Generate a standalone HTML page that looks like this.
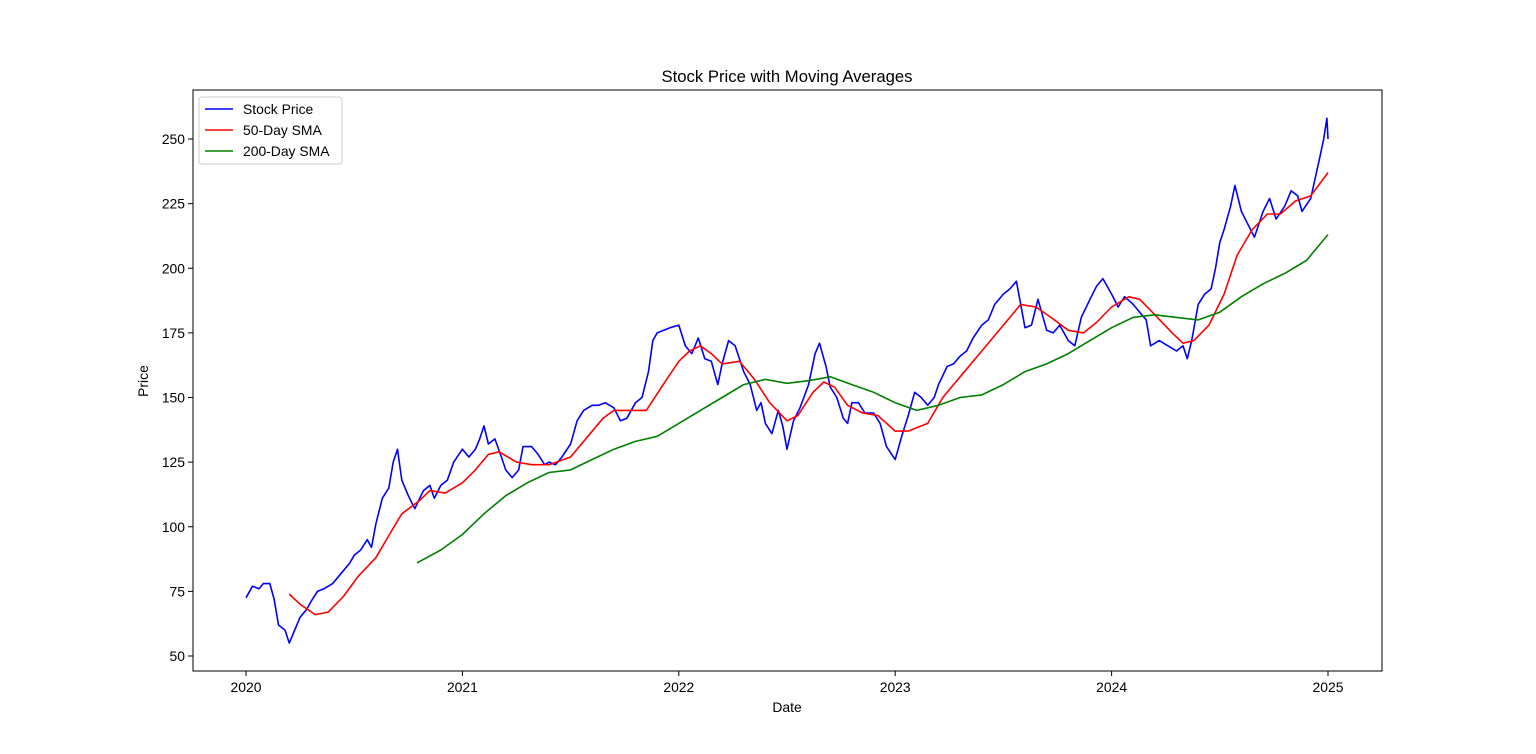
<!DOCTYPE html>
<html><head><meta charset="utf-8"><style>
body{margin:0;background:#fff;}
svg{display:block;font-family:"Liberation Sans","DejaVu Sans",sans-serif;}
</style></head><body>
<svg id="chart" width="1536" height="754">
<rect width="1536" height="754" fill="#fff"/>
<text x="787" y="82" font-size="16.7" text-anchor="middle">Stock Price with Moving Averages</text>
<g id="axes"></g>
<g id="series"></g>
<g>
<rect x="199" y="97" width="143" height="67" rx="3" fill="#fff" fill-opacity="0.8" stroke="#ccc"/>
<g><line x1="205" y1="109" x2="233" y2="109" stroke="#0000ff" stroke-width="1.5"/><text x="243" y="114" font-size="13.9">Stock Price</text></g>
<g><line x1="205" y1="130" x2="233" y2="130" stroke="#ff0000" stroke-width="1.5"/><text x="243" y="135" font-size="13.9">50-Day SMA</text></g>
<g><line x1="205" y1="151" x2="233" y2="151" stroke="#008000" stroke-width="1.5"/><text x="243" y="156" font-size="13.9">200-Day SMA</text></g>
</g>
</svg>
<script>
const xTicks=[2020,2021,2022,2023,2024,2025];
const yTicks=[50,75,100,125,150,175,200,225,250];
const stockT=[2020.00,2020.03,2020.06,2020.08,2020.11,2020.13,2020.15,2020.18,2020.20,2020.22,2020.25,2020.28,2020.30,2020.33,2020.36,2020.40,2020.44,2020.48,2020.50,2020.53,2020.56,2020.58,2020.60,2020.63,2020.66,2020.68,2020.70,2020.72,2020.75,2020.78,2020.82,2020.85,2020.87,2020.90,2020.93,2020.96,2021.00,2021.03,2021.06,2021.08,2021.10,2021.12,2021.15,2021.18,2021.20,2021.23,2021.26,2021.28,2021.32,2021.35,2021.38,2021.40,2021.43,2021.46,2021.50,2021.53,2021.56,2021.60,2021.63,2021.66,2021.70,2021.73,2021.76,2021.80,2021.83,2021.86,2021.88,2021.90,2021.93,2021.96,2022.00,2022.03,2022.06,2022.09,2022.12,2022.15,2022.18,2022.20,2022.23,2022.26,2022.30,2022.33,2022.36,2022.38,2022.40,2022.43,2022.46,2022.48,2022.50,2022.53,2022.56,2022.60,2022.63,2022.65,2022.68,2022.70,2022.73,2022.76,2022.78,2022.80,2022.83,2022.86,2022.90,2022.93,2022.96,2023.00,2023.03,2023.06,2023.09,2023.12,2023.15,2023.18,2023.20,2023.24,2023.27,2023.30,2023.33,2023.36,2023.40,2023.43,2023.46,2023.50,2023.53,2023.56,2023.60,2023.63,2023.66,2023.70,2023.73,2023.76,2023.80,2023.83,2023.86,2023.90,2023.93,2023.96,2024.00,2024.03,2024.06,2024.10,2024.13,2024.16,2024.18,2024.22,2024.26,2024.30,2024.33,2024.35,2024.37,2024.40,2024.43,2024.46,2024.48,2024.50,2024.52,2024.55,2024.57,2024.60,2024.63,2024.66,2024.70,2024.73,2024.76,2024.80,2024.83,2024.86,2024.88,2024.92,2024.96,2024.98,2024.995,2025.00];
const stockV=[72.5,77,76,78,78,72,62,60,55,59,65,68,71,75,76,78,82,86,89,91,95,92,101,111,115,125,130,118,112,107,114,116,111,116,118,125,130,127,130,134,139,132,134,127,122,119,122,131,131,128,124,125,124,127,132,141,145,147,147,148,146,141,142,148,150,160,172,175,176,177,178,170,167,173,165,164,155,163,172,170,160,155,145,148,140,136,145,139,130,141,146,155,167,171,162,154,150,142,140,148,148,144,144,140,131,126,135,143,152,150,147,150,155,162,163,166,168,173,178,180,186,190,192,195,177,178,188,176,175,178,172,170,181,188,193,196,190,185,189,186,183,180,170,172,170,168,170,165,172,186,190,192,200,210,215,224,232,222,217,212,222,227,219,224,230,228,222,227,242,250,258,250];
const sma50T=[2020.20,2020.25,2020.32,2020.38,2020.45,2020.52,2020.60,2020.67,2020.72,2020.80,2020.85,2020.92,2021.00,2021.06,2021.12,2021.17,2021.25,2021.32,2021.40,2021.50,2021.58,2021.65,2021.70,2021.78,2021.85,2021.92,2022.00,2022.05,2022.10,2022.15,2022.20,2022.28,2022.35,2022.42,2022.50,2022.55,2022.62,2022.67,2022.72,2022.78,2022.85,2022.92,2023.00,2023.06,2023.15,2023.22,2023.30,2023.40,2023.50,2023.58,2023.65,2023.72,2023.80,2023.87,2023.93,2024.00,2024.08,2024.13,2024.20,2024.28,2024.33,2024.38,2024.45,2024.52,2024.58,2024.65,2024.72,2024.78,2024.85,2024.92,2025.00];
const sma50V=[74,70,66,67,73,81,88,98,105,110,114,113,117,122,128,129,125,124,124,127,135,142,145,145,145,154,164,168,170,167,163,164,157,148,141,143,152,156,154,147,144,143,137,137,140,150,158,168,178,186,185,181,176,175,179,185,189,188,182,175,171,172,178,190,205,215,221,221,226,228,237];
const sma200T=[2020.79,2020.90,2021.00,2021.10,2021.20,2021.30,2021.40,2021.50,2021.60,2021.70,2021.80,2021.90,2022.00,2022.10,2022.20,2022.30,2022.40,2022.50,2022.60,2022.70,2022.80,2022.90,2023.00,2023.10,2023.20,2023.30,2023.40,2023.50,2023.60,2023.70,2023.80,2023.90,2024.00,2024.10,2024.20,2024.30,2024.40,2024.50,2024.60,2024.70,2024.80,2024.90,2025.00];
const sma200V=[86,91,97,105,112,117,121,122,126,130,133,135,140,145,150,155,157,155.5,156.5,158,155,152,148,145,147,150,151,155,160,163,167,172,177,181,182,181,180,183,189,194,198,203,213];

const L=193,R=1382,T=90,B=671;
const xs=t=>246+(t-2020)*216.4;
const ys=v=>139+(250-v)*2.585;
const NS='http://www.w3.org/2000/svg';
const axes=document.getElementById('axes'), series=document.getElementById('series');
function mk(tag,attrs,parent){const e=document.createElementNS(NS,tag);for(const k in attrs)e.setAttribute(k,attrs[k]);parent.appendChild(e);return e;}
xTicks.forEach(t=>{const x=xs(t);
 mk('line',{x1:x,y1:B,x2:x,y2:B+5,stroke:'#000'},axes);
 const tx=mk('text',{x:x,y:B+21,'font-size':13.9,'text-anchor':'middle'},axes);tx.textContent=t;
 
 });
yTicks.forEach(v=>{const y=ys(v);
 mk('line',{x1:L-5,y1:y,x2:L,y2:y,stroke:'#000'},axes);
 const tx=mk('text',{x:L-8,y:y+5,'font-size':13.9,'text-anchor':'end'},axes);tx.textContent=v;
 
 });
const xl=mk('text',{x:787,y:712,'font-size':13.9,'text-anchor':'middle'},axes);xl.textContent='Date';


const yl=mk('text',{x:148,y:381,'font-size':13.9,'text-anchor':'middle',transform:'rotate(-90 148 381)'},axes);yl.textContent='Price';


function line(T,V,color,name){const d=T.map((t,i)=>(i?'L':'M')+xs(t).toFixed(1)+' '+ys(V[i]).toFixed(1)).join(' ');
 const p=mk('path',{d:d,fill:'none',stroke:color,'stroke-width':1.6,'stroke-linejoin':'round'},series);
 
 }
line(stockT,stockV,'#0000ff','stock-price-line');
line(sma50T,sma50V,'#ff0000','sma50-line');
line(sma200T,sma200V,'#008000','sma200-line');
const fr=mk('rect',{x:L,y:T,width:R-L,height:B-T,fill:'none',stroke:'#000','stroke-width':1},axes);


</script>
</body></html>
